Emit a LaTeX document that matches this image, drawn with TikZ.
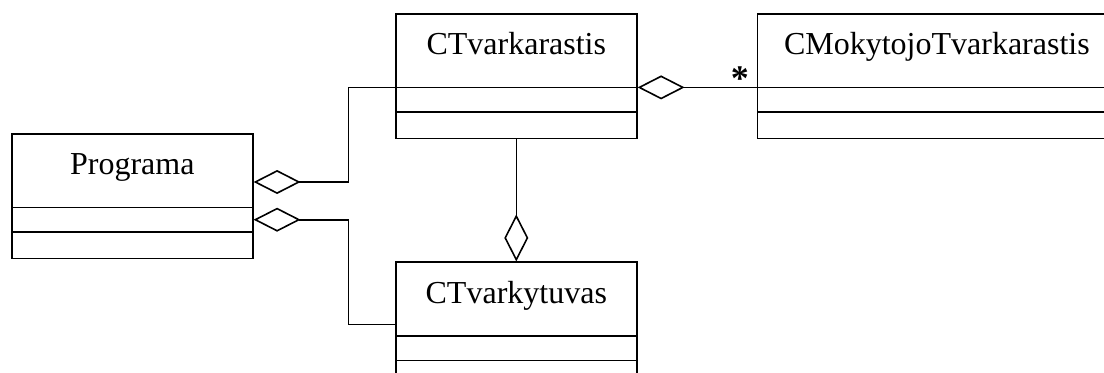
\documentclass[tikz,border=0pt]{standalone}
\usepackage{fontspec}
\setmainfont{Liberation Serif}
\usepackage{tikz}
\usetikzlibrary{positioning,shapes.multipart,arrows.meta,calc}
\newcommand{\klase}[1]{#1\rule[-24pt]{0pt}{54pt}\nodepart{two}\rule{0pt}{17.25pt}\nodepart{three}\rule{0pt}{18.75pt}}

\begin{document}
\begin{tikzpicture}[x=0.75pt,y=-0.75pt,line width=1.2pt,
  umlclass/.style={draw,rectangle split,rectangle split parts=3,inner sep=0pt,text width=180.75pt,align=center,font=\fontsize{24pt}{28pt}\selectfont},
  agr/.style={{Diamond[open,length=35.25pt,width=18pt]}-}]
\useasboundingbox (0,0) rectangle (1104,372);
\clip (0,0) rectangle (1104,372);
\node[umlclass,anchor=north west](T) at (395,13){\klase{CTvarkarastis}};
\node[umlclass,text width=269.25pt,right=89.25pt of T](M){\klase{CMokytojoTvarkarastis}};
\node[umlclass,below=91.5pt of T](K){\klase{CTvarkytuvas}};
\node[umlclass,anchor=north west](P) at (11,133){\klase{Programa}};
\draw[agr](T.text split east) -- (M.text split west) node[pos=1,anchor=base east,inner sep=0pt,xshift=-5.25pt,yshift=-2.5pt,font=\fontsize{27pt}{27pt}\selectfont\bfseries]{*};
\draw[agr]($(P.north east)+(0,49)$) -- ++(95,0) |- (T.text split west);
\draw[agr](P.two east) -- ++(95,0) |- (K.west);
\draw[agr](K.north) -- (T.south);
\end{tikzpicture}
\end{document}
